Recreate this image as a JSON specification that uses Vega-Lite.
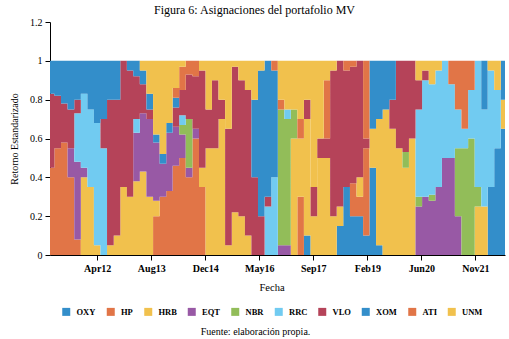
{
  "$schema": "https://vega.github.io/schema/vega-lite/v6.json",
  "width": 455,
  "height": 233,
  "autosize": {"type": "none"},
  "padding": {"left": 50, "top": 22, "right": 4, "bottom": 84},
  "background": "white",
  "config": {
    "view": {"stroke": null},
    "font": "Liberation Serif",
    "axis": {"labelFont": "Liberation Serif", "titleFont": "Liberation Serif", "domainColor": "black", "tickColor": "black", "labelColor": "black", "titleColor": "black", "grid": false},
    "legend": {"labelFont": "Liberation Serif", "titleFont": "Liberation Serif"}
  },
  "title": {
    "text": "Figura 6: Asignaciones del portafolio MV",
    "font": "Liberation Serif",
    "fontSize": 12,
    "fontWeight": "normal",
    "color": "black",
    "anchor": "middle",
    "frame": "group",
    "dx": -23,
    "offset": 0
  },
  "data": {
    "values": [
      {"d": "2011-01-19", "OXY": 0, "HP": 0.45, "HRB": 0, "EQT": 0, "NBR": 0, "RRC": 0, "VLO": 0.38, "XOM": 0.17, "ATI": 0, "UNM": 0},
      {"d": "2011-03-01", "OXY": 0, "HP": 0.55, "HRB": 0, "EQT": 0, "NBR": 0, "RRC": 0, "VLO": 0.27, "XOM": 0.18, "ATI": 0, "UNM": 0},
      {"d": "2011-05-01", "OXY": 0, "HP": 0.58, "HRB": 0, "EQT": 0, "NBR": 0, "RRC": 0, "VLO": 0.2, "XOM": 0.22, "ATI": 0, "UNM": 0},
      {"d": "2011-07-01", "OXY": 0, "HP": 0.4, "HRB": 0, "EQT": 0.15, "NBR": 0, "RRC": 0, "VLO": 0.2, "XOM": 0.25, "ATI": 0, "UNM": 0},
      {"d": "2011-09-01", "OXY": 0, "HP": 0.08, "HRB": 0, "EQT": 0.4, "NBR": 0, "RRC": 0.25, "VLO": 0.07, "XOM": 0.2, "ATI": 0, "UNM": 0},
      {"d": "2011-11-01", "OXY": 0, "HP": 0, "HRB": 0.4, "EQT": 0.05, "NBR": 0, "RRC": 0.38, "VLO": 0, "XOM": 0.17, "ATI": 0, "UNM": 0},
      {"d": "2012-01-01", "OXY": 0, "HP": 0, "HRB": 0.35, "EQT": 0, "NBR": 0, "RRC": 0.4, "VLO": 0, "XOM": 0.25, "ATI": 0, "UNM": 0},
      {"d": "2012-03-01", "OXY": 0, "HP": 0, "HRB": 0.05, "EQT": 0, "NBR": 0, "RRC": 0.63, "VLO": 0, "XOM": 0.32, "ATI": 0, "UNM": 0},
      {"d": "2012-05-01", "OXY": 0, "HP": 0, "HRB": 0, "EQT": 0, "NBR": 0, "RRC": 0.55, "VLO": 0.15, "XOM": 0.3, "ATI": 0, "UNM": 0},
      {"d": "2012-07-01", "OXY": 0, "HP": 0, "HRB": 0.05, "EQT": 0, "NBR": 0, "RRC": 0, "VLO": 0.75, "XOM": 0.2, "ATI": 0, "UNM": 0},
      {"d": "2012-09-01", "OXY": 0, "HP": 0, "HRB": 0.1, "EQT": 0, "NBR": 0, "RRC": 0, "VLO": 0.7, "XOM": 0.2, "ATI": 0, "UNM": 0},
      {"d": "2012-11-01", "OXY": 0, "HP": 0, "HRB": 0.35, "EQT": 0, "NBR": 0, "RRC": 0, "VLO": 0.65, "XOM": 0, "ATI": 0, "UNM": 0},
      {"d": "2013-01-01", "OXY": 0, "HP": 0, "HRB": 0.3, "EQT": 0, "NBR": 0, "RRC": 0, "VLO": 0.65, "XOM": 0.05, "ATI": 0, "UNM": 0},
      {"d": "2013-03-01", "OXY": 0, "HP": 0, "HRB": 0.38, "EQT": 0.25, "NBR": 0, "RRC": 0.07, "VLO": 0.22, "XOM": 0.08, "ATI": 0, "UNM": 0},
      {"d": "2013-05-01", "OXY": 0, "HP": 0, "HRB": 0.43, "EQT": 0.3, "NBR": 0, "RRC": 0, "VLO": 0.15, "XOM": 0.07, "ATI": 0, "UNM": 0.05},
      {"d": "2013-07-01", "OXY": 0, "HP": 0, "HRB": 0.3, "EQT": 0.4, "NBR": 0, "RRC": 0, "VLO": 0.05, "XOM": 0.08, "ATI": 0, "UNM": 0.17},
      {"d": "2013-09-01", "OXY": 0, "HP": 0.2, "HRB": 0.08, "EQT": 0.3, "NBR": 0, "RRC": 0, "VLO": 0, "XOM": 0.04, "ATI": 0, "UNM": 0.38},
      {"d": "2013-11-01", "OXY": 0, "HP": 0.3, "HRB": 0, "EQT": 0.17, "NBR": 0, "RRC": 0, "VLO": 0, "XOM": 0.05, "ATI": 0, "UNM": 0.48},
      {"d": "2014-01-01", "OXY": 0, "HP": 0.33, "HRB": 0, "EQT": 0.3, "NBR": 0, "RRC": 0, "VLO": 0, "XOM": 0.05, "ATI": 0, "UNM": 0.32},
      {"d": "2014-03-01", "OXY": 0, "HP": 0.46, "HRB": 0, "EQT": 0.2, "NBR": 0, "RRC": 0, "VLO": 0.1, "XOM": 0.05, "ATI": 0.05, "UNM": 0.14},
      {"d": "2014-05-01", "OXY": 0, "HP": 0.5, "HRB": 0, "EQT": 0.12, "NBR": 0.05, "RRC": 0.05, "VLO": 0.13, "XOM": 0, "ATI": 0.12, "UNM": 0.03},
      {"d": "2014-07-01", "OXY": 0, "HP": 0.4, "HRB": 0, "EQT": 0.05, "NBR": 0.25, "RRC": 0, "VLO": 0.23, "XOM": 0, "ATI": 0.07, "UNM": 0},
      {"d": "2014-09-01", "OXY": 0, "HP": 0.6, "HRB": 0, "EQT": 0.05, "NBR": 0, "RRC": 0, "VLO": 0.27, "XOM": 0, "ATI": 0.08, "UNM": 0},
      {"d": "2014-11-01", "OXY": 0, "HP": 0.35, "HRB": 0.1, "EQT": 0, "NBR": 0, "RRC": 0, "VLO": 0.5, "XOM": 0, "ATI": 0, "UNM": 0.05},
      {"d": "2015-01-01", "OXY": 0, "HP": 0, "HRB": 0.55, "EQT": 0, "NBR": 0, "RRC": 0, "VLO": 0.2, "XOM": 0, "ATI": 0, "UNM": 0.25},
      {"d": "2015-03-01", "OXY": 0, "HP": 0, "HRB": 0.55, "EQT": 0, "NBR": 0, "RRC": 0, "VLO": 0.35, "XOM": 0, "ATI": 0, "UNM": 0.1},
      {"d": "2015-05-01", "OXY": 0, "HP": 0, "HRB": 0.7, "EQT": 0, "NBR": 0, "RRC": 0, "VLO": 0.1, "XOM": 0, "ATI": 0, "UNM": 0.2},
      {"d": "2015-07-01", "OXY": 0, "HP": 0, "HRB": 0.05, "EQT": 0, "NBR": 0, "RRC": 0, "VLO": 0.6, "XOM": 0, "ATI": 0, "UNM": 0.35},
      {"d": "2015-09-01", "OXY": 0, "HP": 0, "HRB": 0.22, "EQT": 0, "NBR": 0, "RRC": 0, "VLO": 0.75, "XOM": 0, "ATI": 0, "UNM": 0.03},
      {"d": "2015-11-01", "OXY": 0, "HP": 0, "HRB": 0.2, "EQT": 0, "NBR": 0, "RRC": 0, "VLO": 0.7, "XOM": 0, "ATI": 0, "UNM": 0.1},
      {"d": "2016-01-01", "OXY": 0, "HP": 0, "HRB": 0.1, "EQT": 0, "NBR": 0, "RRC": 0, "VLO": 0.75, "XOM": 0, "ATI": 0, "UNM": 0.15},
      {"d": "2016-03-01", "OXY": 0, "HP": 0, "HRB": 0, "EQT": 0, "NBR": 0, "RRC": 0, "VLO": 0.4, "XOM": 0.4, "ATI": 0, "UNM": 0.2},
      {"d": "2016-05-01", "OXY": 0, "HP": 0, "HRB": 0, "EQT": 0, "NBR": 0, "RRC": 0, "VLO": 0.2, "XOM": 0.75, "ATI": 0, "UNM": 0.05},
      {"d": "2016-07-01", "OXY": 0, "HP": 0, "HRB": 0, "EQT": 0, "NBR": 0, "RRC": 0.25, "VLO": 0.05, "XOM": 0.7, "ATI": 0, "UNM": 0},
      {"d": "2016-09-01", "OXY": 0, "HP": 0, "HRB": 0, "EQT": 0, "NBR": 0, "RRC": 0.4, "VLO": 0, "XOM": 0.55, "ATI": 0.05, "UNM": 0},
      {"d": "2016-11-01", "OXY": 0, "HP": 0, "HRB": 0, "EQT": 0.05, "NBR": 0.7, "RRC": 0, "VLO": 0, "XOM": 0, "ATI": 0.05, "UNM": 0.2},
      {"d": "2017-01-01", "OXY": 0, "HP": 0, "HRB": 0, "EQT": 0.05, "NBR": 0.65, "RRC": 0.05, "VLO": 0, "XOM": 0, "ATI": 0, "UNM": 0.25},
      {"d": "2017-03-01", "OXY": 0, "HP": 0, "HRB": 0.6, "EQT": 0, "NBR": 0.15, "RRC": 0, "VLO": 0, "XOM": 0, "ATI": 0, "UNM": 0.25},
      {"d": "2017-05-01", "OXY": 0, "HP": 0.3, "HRB": 0.3, "EQT": 0, "NBR": 0, "RRC": 0, "VLO": 0, "XOM": 0, "ATI": 0.1, "UNM": 0.3},
      {"d": "2017-07-01", "OXY": 0.1, "HP": 0, "HRB": 0.6, "EQT": 0, "NBR": 0, "RRC": 0, "VLO": 0.1, "XOM": 0, "ATI": 0, "UNM": 0.2},
      {"d": "2017-09-01", "OXY": 0, "HP": 0, "HRB": 0.2, "EQT": 0, "NBR": 0, "RRC": 0, "VLO": 0.15, "XOM": 0, "ATI": 0, "UNM": 0.65},
      {"d": "2017-11-01", "OXY": 0, "HP": 0, "HRB": 0.5, "EQT": 0, "NBR": 0, "RRC": 0, "VLO": 0.1, "XOM": 0, "ATI": 0, "UNM": 0.4},
      {"d": "2018-01-01", "OXY": 0, "HP": 0, "HRB": 0.5, "EQT": 0, "NBR": 0, "RRC": 0, "VLO": 0.1, "XOM": 0, "ATI": 0.3, "UNM": 0.1},
      {"d": "2018-03-01", "OXY": 0, "HP": 0, "HRB": 0.2, "EQT": 0, "NBR": 0, "RRC": 0, "VLO": 0.75, "XOM": 0, "ATI": 0, "UNM": 0.05},
      {"d": "2018-05-01", "OXY": 0.15, "HP": 0, "HRB": 0.1, "EQT": 0, "NBR": 0, "RRC": 0, "VLO": 0.75, "XOM": 0, "ATI": 0, "UNM": 0},
      {"d": "2018-07-01", "OXY": 0.35, "HP": 0, "HRB": 0, "EQT": 0, "NBR": 0, "RRC": 0, "VLO": 0.6, "XOM": 0, "ATI": 0.05, "UNM": 0},
      {"d": "2018-09-01", "OXY": 0.2, "HP": 0.17, "HRB": 0, "EQT": 0, "NBR": 0, "RRC": 0, "VLO": 0.6, "XOM": 0, "ATI": 0.03, "UNM": 0},
      {"d": "2018-11-01", "OXY": 0.2, "HP": 0.1, "HRB": 0.1, "EQT": 0, "NBR": 0, "RRC": 0, "VLO": 0.6, "XOM": 0, "ATI": 0, "UNM": 0},
      {"d": "2019-01-01", "OXY": 0.1, "HP": 0.45, "HRB": 0, "EQT": 0, "NBR": 0, "RRC": 0, "VLO": 0.05, "XOM": 0, "ATI": 0.4, "UNM": 0},
      {"d": "2019-03-01", "OXY": 0.45, "HP": 0, "HRB": 0.2, "EQT": 0, "NBR": 0, "RRC": 0, "VLO": 0, "XOM": 0.35, "ATI": 0, "UNM": 0},
      {"d": "2019-05-01", "OXY": 0.05, "HP": 0, "HRB": 0.65, "EQT": 0, "NBR": 0, "RRC": 0, "VLO": 0, "XOM": 0.3, "ATI": 0, "UNM": 0},
      {"d": "2019-07-01", "OXY": 0, "HP": 0, "HRB": 0.75, "EQT": 0, "NBR": 0, "RRC": 0, "VLO": 0, "XOM": 0.25, "ATI": 0, "UNM": 0},
      {"d": "2019-09-01", "OXY": 0, "HP": 0, "HRB": 0.65, "EQT": 0, "NBR": 0, "RRC": 0, "VLO": 0.15, "XOM": 0.2, "ATI": 0, "UNM": 0},
      {"d": "2019-11-01", "OXY": 0, "HP": 0, "HRB": 0.55, "EQT": 0, "NBR": 0, "RRC": 0, "VLO": 0.45, "XOM": 0, "ATI": 0, "UNM": 0},
      {"d": "2020-01-01", "OXY": 0, "HP": 0, "HRB": 0.45, "EQT": 0, "NBR": 0.08, "RRC": 0, "VLO": 0.47, "XOM": 0, "ATI": 0, "UNM": 0},
      {"d": "2020-03-01", "OXY": 0, "HP": 0, "HRB": 0.6, "EQT": 0, "NBR": 0, "RRC": 0, "VLO": 0.4, "XOM": 0, "ATI": 0, "UNM": 0},
      {"d": "2020-05-01", "OXY": 0, "HP": 0, "HRB": 0, "EQT": 0.25, "NBR": 0.05, "RRC": 0.45, "VLO": 0.15, "XOM": 0, "ATI": 0, "UNM": 0.1},
      {"d": "2020-07-01", "OXY": 0, "HP": 0, "HRB": 0, "EQT": 0.3, "NBR": 0, "RRC": 0.6, "VLO": 0.05, "XOM": 0, "ATI": 0, "UNM": 0.05},
      {"d": "2020-09-01", "OXY": 0, "HP": 0, "HRB": 0, "EQT": 0.28, "NBR": 0.03, "RRC": 0.57, "VLO": 0, "XOM": 0, "ATI": 0, "UNM": 0.12},
      {"d": "2020-11-01", "OXY": 0, "HP": 0, "HRB": 0, "EQT": 0.35, "NBR": 0, "RRC": 0.6, "VLO": 0, "XOM": 0, "ATI": 0, "UNM": 0.05},
      {"d": "2021-01-01", "OXY": 0, "HP": 0, "HRB": 0, "EQT": 0.5, "NBR": 0, "RRC": 0.5, "VLO": 0, "XOM": 0, "ATI": 0, "UNM": 0},
      {"d": "2021-03-01", "OXY": 0, "HP": 0, "HRB": 0, "EQT": 0.5, "NBR": 0, "RRC": 0.38, "VLO": 0, "XOM": 0, "ATI": 0.12, "UNM": 0},
      {"d": "2021-05-01", "OXY": 0, "HP": 0, "HRB": 0, "EQT": 0.2, "NBR": 0.35, "RRC": 0.2, "VLO": 0, "XOM": 0, "ATI": 0.25, "UNM": 0},
      {"d": "2021-07-01", "OXY": 0, "HP": 0, "HRB": 0, "EQT": 0, "NBR": 0.55, "RRC": 0.1, "VLO": 0, "XOM": 0, "ATI": 0.35, "UNM": 0},
      {"d": "2021-09-01", "OXY": 0, "HP": 0, "HRB": 0, "EQT": 0, "NBR": 0.6, "RRC": 0.25, "VLO": 0, "XOM": 0, "ATI": 0.15, "UNM": 0},
      {"d": "2021-11-01", "OXY": 0, "HP": 0, "HRB": 0.25, "EQT": 0, "NBR": 0.1, "RRC": 0.65, "VLO": 0, "XOM": 0, "ATI": 0, "UNM": 0},
      {"d": "2022-01-01", "OXY": 0, "HP": 0, "HRB": 0.25, "EQT": 0, "NBR": 0, "RRC": 0.5, "VLO": 0, "XOM": 0.25, "ATI": 0, "UNM": 0},
      {"d": "2022-03-01", "OXY": 0.35, "HP": 0, "HRB": 0, "EQT": 0, "NBR": 0, "RRC": 0.6, "VLO": 0, "XOM": 0, "ATI": 0, "UNM": 0.05},
      {"d": "2022-05-01", "OXY": 0.55, "HP": 0, "HRB": 0, "EQT": 0, "NBR": 0, "RRC": 0.3, "VLO": 0, "XOM": 0, "ATI": 0, "UNM": 0.15},
      {"d": "2022-07-01", "OXY": 0.65, "HP": 0, "HRB": 0.15, "EQT": 0, "NBR": 0, "RRC": 0, "VLO": 0, "XOM": 0.2, "ATI": 0, "UNM": 0},
      {"d": "2022-08-09", "OXY": 0.65, "HP": 0, "HRB": 0.15, "EQT": 0, "NBR": 0, "RRC": 0, "VLO": 0, "XOM": 0.2, "ATI": 0, "UNM": 0}
    ]
  },
  "transform": [
    {"fold": ["OXY", "HP", "HRB", "EQT", "NBR", "RRC", "VLO", "XOM", "ATI", "UNM"], "as": ["serie", "peso"]},
    {"lookup": "serie", "from": {"data": {"values": [
      {"k": "OXY", "i": 1}, {"k": "HP", "i": 2}, {"k": "HRB", "i": 3}, {"k": "EQT", "i": 4}, {"k": "NBR", "i": 5},
      {"k": "RRC", "i": 6}, {"k": "VLO", "i": 7}, {"k": "XOM", "i": 8}, {"k": "ATI", "i": 9}, {"k": "UNM", "i": 10}
    ]}, "key": "k", "fields": ["i"]}}
  ],
  "mark": {"type": "area", "interpolate": "step-after", "strokeWidth": 0},
  "encoding": {
    "x": {
      "field": "d",
      "type": "temporal",
      "scale": {"type": "utc", "domain": [{"year": 2011, "month": 1, "date": 19, "utc": true}, {"year": 2022, "month": 8, "date": 9, "utc": true}]},
      "axis": {
        "values": [
          {"year": 2012, "month": 4, "date": 1, "utc": true},
          {"year": 2013, "month": 8, "date": 15, "utc": true},
          {"year": 2014, "month": 12, "date": 29, "utc": true},
          {"year": 2016, "month": 5, "date": 13, "utc": true},
          {"year": 2017, "month": 9, "date": 26, "utc": true},
          {"year": 2019, "month": 2, "date": 9, "utc": true},
          {"year": 2020, "month": 6, "date": 24, "utc": true},
          {"year": 2021, "month": 11, "date": 7, "utc": true}
        ],
        "format": "%b%y",
        "labelFontSize": 10,
        "labelFontWeight": "bold",
        "labelPadding": 3,
        "tickSize": 5,
        "labelFlush": false,
        "labelOverlap": false,
        "title": "Fuente: elaboración propia.",
        "titleFontSize": 10,
        "titleFontWeight": "normal",
        "titleX": 205,
        "titleY": 76,
        "titleBaseline": "middle",
        "titleAnchor": "middle",
        "titleAlign": "center"
      }
    },
    "y": {
      "field": "peso",
      "type": "quantitative",
      "stack": "zero",
      "scale": {"domain": [0, 1.2], "nice": false},
      "axis": {
        "values": [0, 0.2, 0.4, 0.6, 0.8, 1, 1.2],
        "format": "~g",
        "labelFontSize": 10,
        "labelFontWeight": "normal",
        "labelPadding": 3,
        "tickSize": 5,
        "labelFlush": false,
        "title": "Retorno Estandarizado",
        "titleFontSize": 10,
        "titleFontWeight": "normal",
        "titlePadding": 10
      }
    },
    "color": {
      "field": "serie",
      "type": "nominal",
      "scale": {
        "domain": ["OXY", "HP", "HRB", "EQT", "NBR", "RRC", "VLO", "XOM", "ATI", "UNM"],
        "range": ["#338ECA", "#E17547", "#F1C14D", "#9859A5", "#92BD59", "#71CBF1", "#B54359", "#338ECA", "#E17547", "#F1C14D"]
      },
      "legend": {
        "orient": "none",
        "legendX": 12,
        "legendY": 261,
        "direction": "horizontal",
        "columns": 10,
        "symbolType": "square",
        "symbolSize": 64,
        "symbolStrokeWidth": 0,
        "labelFontSize": 8.5,
        "labelFontWeight": "bold",
        "labelOffset": 6,
        "columnPadding": 10.5,
        "title": "Fecha",
        "titleFontSize": 10.5,
        "titleFontWeight": "normal",
        "titleAnchor": "middle",
        "titlePadding": 14,
        "titleColor": "black",
        "labelColor": "black"
      }
    },
    "order": {"field": "i", "type": "quantitative"}
  }
}
